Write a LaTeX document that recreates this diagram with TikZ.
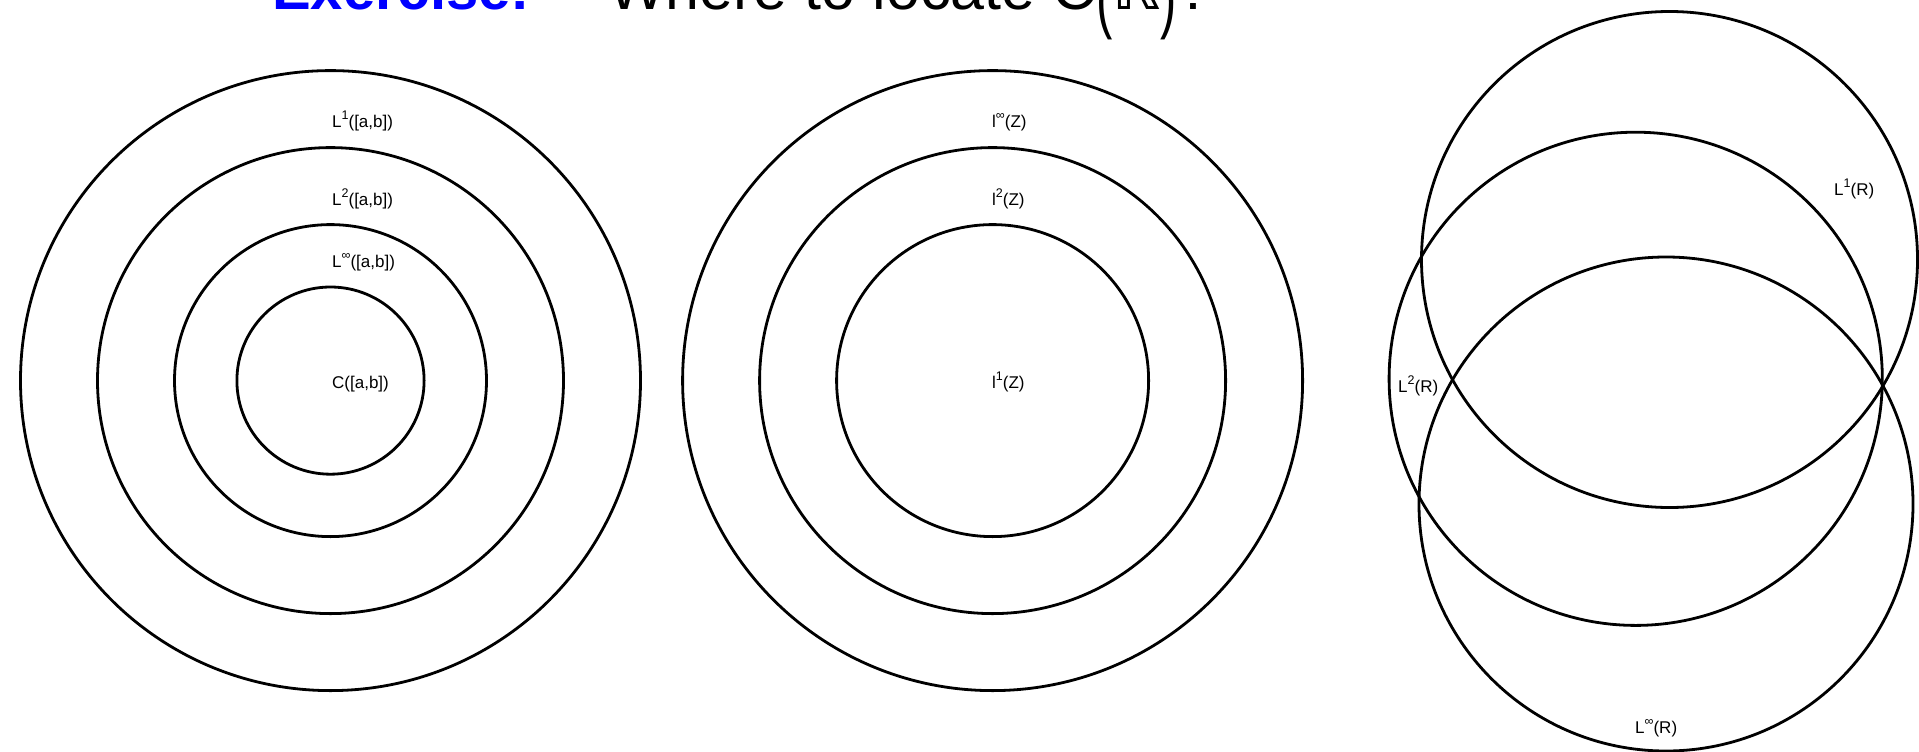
\documentclass[tikz,border=0pt]{standalone}
\usepackage{fontspec}
\setmainfont{Liberation Sans}
\newfontfamily\dvfont{DejaVu Sans}
\newcommand{\sps}[1]{\raisebox{0.42em}{\fontsize{12.5}{12.5}\selectfont #1}}
\newcommand{\bigpar}[1]{\raisebox{-0.22em}{\scalebox{0.8}[1.3]{#1}}}
\begin{document}
\begin{tikzpicture}[x=1pt,y=-1pt,
  ring/.style={draw=black,line width=2.8pt},
  lab/.style={anchor=base west,inner sep=0pt,font=\fontsize{17}{20}\selectfont},
  ttl/.style={anchor=base west,inner sep=0pt,font=\fontsize{58}{64}\selectfont}]
\clip (0,0) rectangle (1919,752);
\fill[white] (0,0) rectangle (1919,752);
% title (cut off at the top)
\node[ttl,text=blue,font=\fontsize{58}{64}\selectfont\bfseries] (title) at (272,10) {Exercise:};
\node[ttl,font=\fontsize{61}{66}\selectfont] (title2) at (608,10) {Where to locate C\bigpar{(}{\dvfont ℝ}\bigpar{)}?};
% left: concentric
\coordinate (cL) at (330.5,380.6);
\draw[ring] (cL) circle [radius=310];
\draw[ring] (cL) circle [radius=233];
\draw[ring] (cL) circle [radius=156];
\draw[ring] (cL) circle [radius=93.6];
\node[lab] (l1ab) at (332,127) {L\sps{1}([a,b])};
\node[lab] (l2ab) at (332,205) {L\sps{2}([a,b])};
\node[lab] (liab) at (332,267) {L\sps{∞}([a,b])};
\node[lab] (cab) at (332,388) {C([a,b])};
% middle: concentric
\coordinate (cM) at (992.6,380.6);
\draw[ring] (cM) circle [radius=310];
\draw[ring] (cM) circle [radius=233];
\draw[ring] (cM) circle [radius=156];
\node[lab] (liz) at (992,127) {l\sps{∞}(Z)};
\node[lab] (l2z) at (992,205) {l\sps{2}(Z)};
\node[lab] (l1z) at (992,388) {l\sps{1}(Z)};
% right: overlapping
\coordinate (cA) at (1669.5,259.5);
\coordinate (cB) at (1635.7,378.8);
\coordinate (cC) at (1666,504);
\draw[ring] (cA) circle [radius=248];
\draw[ring] (cB) circle [radius=246.6];
\draw[ring] (cC) circle [radius=247];
\node[lab] (l1r) at (1834,195) {L\sps{1}(R)};
\node[lab] (l2r) at (1398,392) {L\sps{2}(R)};
\node[lab] (lir) at (1635,733) {L\sps{∞}(R)};
\end{tikzpicture}
\end{document}
